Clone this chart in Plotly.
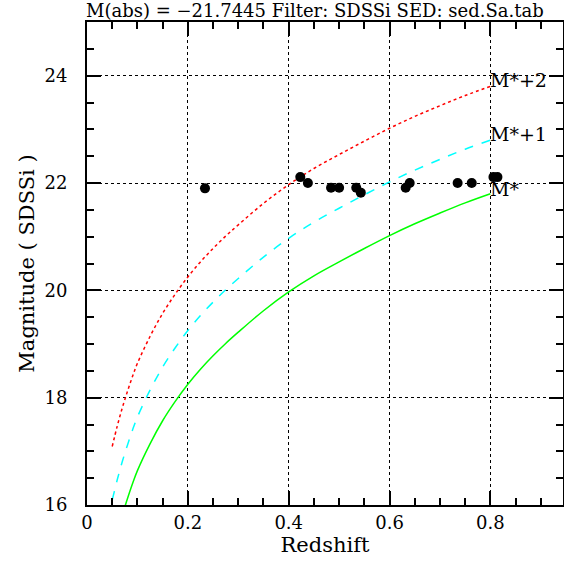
import plotly.graph_objects as go

# Model curves (redshift vs apparent magnitude)
z_curve = [0.05, 0.06, 0.07, 0.08, 0.09, 0.10, 0.125, 0.15, 0.175, 0.20, 0.225, 0.25, 0.275,
           0.30, 0.35, 0.40, 0.45, 0.50, 0.55, 0.60, 0.65, 0.70, 0.75, 0.80]
m_star = [15.09, 15.47, 15.81, 16.11, 16.39, 16.64, 17.14, 17.57, 17.93, 18.25, 18.53, 18.78, 19.01,
          19.22, 19.62, 19.97, 20.27, 20.53, 20.78, 21.02, 21.24, 21.44, 21.63, 21.80]
m_star1 = [16.09, 16.47, 16.81, 17.11, 17.39, 17.64, 18.14, 18.57, 18.93, 19.25, 19.53, 19.78, 20.01,
           20.22, 20.62, 20.97, 21.27, 21.53, 21.78, 22.02, 22.24, 22.44, 22.63, 22.80]
m_star2 = [17.09, 17.47, 17.81, 18.11, 18.39, 18.64, 19.14, 19.57, 19.93, 20.25, 20.53, 20.78, 21.01,
           21.22, 21.62, 21.97, 22.27, 22.53, 22.78, 23.02, 23.24, 23.44, 23.63, 23.80]

# Observed galaxies
z_obs = [0.234, 0.423, 0.438, 0.484, 0.500, 0.534, 0.543, 0.632, 0.640, 0.735, 0.763, 0.806, 0.814]
m_obs = [21.90, 22.11, 22.00, 21.91, 21.91, 21.91, 21.82, 21.91, 22.00, 22.00, 22.00, 22.11, 22.11]

curve_labels = ["M*+2", "M*+1", "M*"]
label_x = 0.8
label_y = [23.92, 22.92, 21.88]

x_ticks = [0, 0.2, 0.4, 0.6, 0.8]
x_ticktext = ["0", "0.2", "0.4", "0.6", "0.8"]
y_ticks = [16, 18, 20, 22, 24]

title_text = "M(abs) = \u221221.7445 Filter: SDSSi SED: sed.Sa.tab"

FONT = "DejaVu Serif"
X_RANGE = [0, 0.944]
Y_RANGE = [16, 25]

fig = go.Figure()
fig.add_trace(go.Scatter(x=z_curve, y=m_star2, mode="lines", line_shape="spline",
                         line=dict(color="#ff0000", width=1.5, dash="dot")))
fig.add_trace(go.Scatter(x=z_curve, y=m_star1, mode="lines", line_shape="spline",
                         line=dict(color="#00ffff", width=1.5, dash="dash")))
fig.add_trace(go.Scatter(x=z_curve, y=m_star, mode="lines", line_shape="spline",
                         line=dict(color="#00ff00", width=1.5)))
fig.add_trace(go.Scatter(x=z_obs, y=m_obs, mode="markers",
                         marker=dict(color="black", size=10)))
# invisible trace to activate the mirrored top/right axes
fig.add_trace(go.Scatter(x=[None], y=[None], xaxis="x2", yaxis="y2", mode="markers",
                         hoverinfo="skip"))

for t, yy in zip(curve_labels, label_y):
    fig.add_annotation(x=label_x, y=yy, text=t, showarrow=False, xanchor="left",
                       yanchor="middle", xshift=-2,
                       font=dict(family=FONT, size=19, color="black"))

fig.add_annotation(x=0.48, y=1, xref="paper", yref="paper", text=title_text,
                   showarrow=False, xanchor="center", yanchor="bottom", yshift=-1,
                   font=dict(family=FONT, size=18, color="black"))

tick_common = dict(ticks="inside", ticklen=14, tickwidth=1.5, tickcolor="black")
axis_common = dict(showline=True, linecolor="black", linewidth=2, mirror=True,
                   showgrid=True, gridcolor="black", griddash="dot", gridwidth=1.2,
                   zeroline=False, automargin=False,
                   tickfont=dict(family=FONT, size=18, color="black"), **tick_common)

fig.update_layout(
    xaxis=dict(range=X_RANGE, tickvals=x_ticks, ticktext=x_ticktext,
               minor=dict(dtick=0.05, ticks="inside", ticklen=7, tickwidth=1.5,
                          tickcolor="black", showgrid=False),
               title=dict(text="Redshift", font=dict(family=FONT, size=21, color="black"),
                          standoff=6),
               **axis_common),
    yaxis=dict(range=Y_RANGE, tickvals=y_ticks,
               minor=dict(dtick=0.5, ticks="inside", ticklen=7, tickwidth=1.5,
                          tickcolor="black", showgrid=False),
               ticklabelstandoff=14,
               title=dict(text="Magnitude ( SDSSi )",
                          font=dict(family=FONT, size=21, color="black"), standoff=4),
               **axis_common),
    xaxis2=dict(range=X_RANGE, overlaying="x", side="top", anchor="y2",
                tickvals=x_ticks, showticklabels=False, showgrid=False, zeroline=False,
                automargin=False,
                minor=dict(dtick=0.05, ticks="inside", ticklen=7, tickwidth=1.5,
                           tickcolor="black", showgrid=False),
                **tick_common),
    yaxis2=dict(range=Y_RANGE, overlaying="y", side="right", anchor="x2",
                tickvals=y_ticks, showticklabels=False, showgrid=False, zeroline=False,
                automargin=False,
                minor=dict(dtick=0.5, ticks="inside", ticklen=7, tickwidth=1.5,
                           tickcolor="black", showgrid=False),
                **tick_common),
)

fig.update_layout(width=564, height=567, showlegend=False,
                  plot_bgcolor="white", paper_bgcolor="white",
                  margin=dict(l=87, r=1, t=22, b=62))

fig.write_html("out.html", config={"displayModeBar": False},
               post_script="document.body.style.margin='0px';")
